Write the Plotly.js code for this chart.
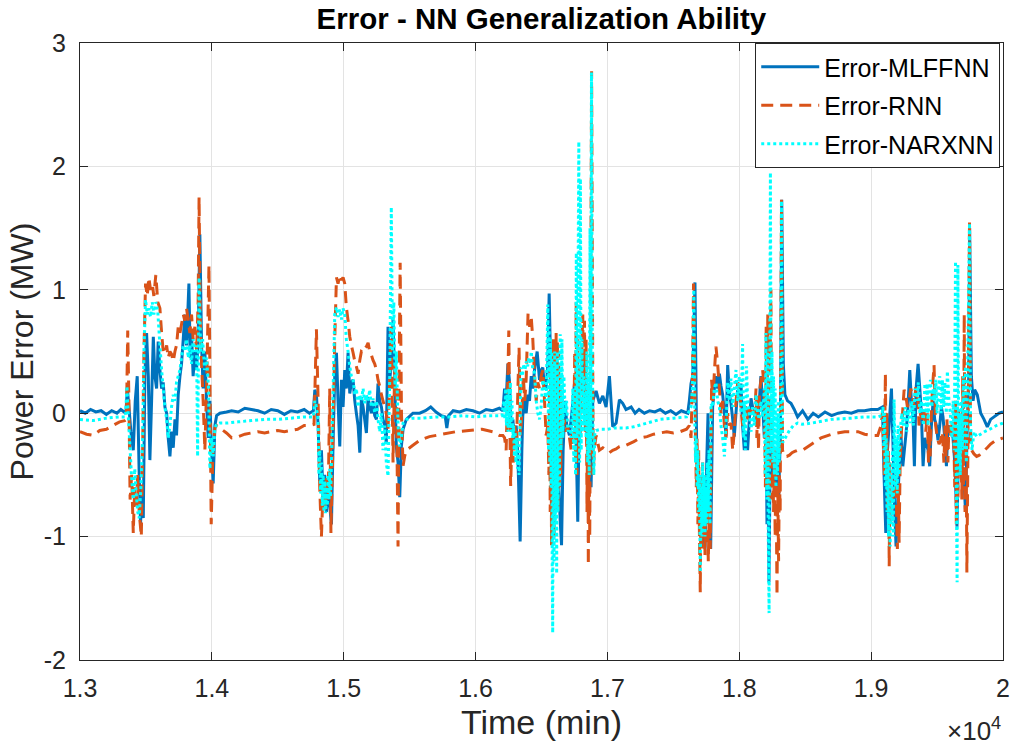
<!DOCTYPE html>
<html>
<head>
<meta charset="utf-8">
<script src="https://cdn.plot.ly/plotly-3.0.1.min.js"></script>
<style>html,body{margin:0;padding:0;background:#fff;}#chart{width:1013px;height:750px;}</style>
</head>
<body>
<div id="chart"></div>
<script>
// ---- tick labels ----
const xTickVals = [13000, 14000, 15000, 16000, 17000, 18000, 19000, 20000];
const xTickText = ['1.3', '1.4', '1.5', '1.6', '1.7', '1.8', '1.9', '2'];
const yTickVals = [-2, -1, 0, 1, 2, 3];
const yTickText = ['-2', '-1', '0', '1', '2', '3'];
const seriesNames = ['Error-MLFFNN', 'Error-RNN', 'Error-NARXNN'];

// ---- Error-MLFFNN : [time (min), error (MW)] ----
const mlffnnA = [[13000,0.02],[13040,0.00],[13080,0.03],[13120,0.01],[13160,0.02],[13200,-0.01],[13240,0.02],[13280,0.00],[13310,0.03],[13335,0.01],[13348,0.00],[13359,0.20],[13371,0.05],[13386,-0.15],[13404,-0.30],[13419,0.10],[13434,0.30],[13449,-0.50],[13459,-0.90],[13470,-0.60],[13480,-0.85],[13492,0.30],[13505,0.65],[13518,0.30],[13530,-0.38],[13543,0.10],[13556,0.62],[13568,0.30],[13581,0.20],[13593,0.58],[13606,0.35],[13619,0.20],[13631,0.25],[13644,0.05],[13657,0.00],[13669,-0.20],[13682,-0.35],[13694,-0.15],[13707,-0.28],[13720,-0.05],[13732,-0.18],[13745,0.15],[13758,0.30],[13770,0.40],[13783,0.60],[13795,0.80],[13808,0.55],[13826,1.05],[13836,0.45],[13846,0.65],[13858,0.30],[13871,0.50],[13884,0.35],[13896,0.60],[13909,1.45],[13922,0.55],[13934,0.20],[13947,0.50],[13960,0.10],[13972,-0.20],[13985,0.10],[13998,-0.30],[14010,-0.57],[14023,-0.10],[14036,-0.02],[14061,0.00]];
const mlffnnB = [[14111,0.01],[14150,0.02],[14200,0.01],[14250,0.04],[14300,0.03],[14350,0.02],[14400,0.00],[14450,0.03],[14500,0.02],[14550,-0.01],[14600,0.02],[14650,0.01],[14700,0.03],[14740,0.00],[14770,0.02],[14781,0.19],[14793,0.15],[14806,-0.10],[14818,-0.55],[14831,-0.30],[14844,-0.70],[14856,-0.50],[14869,-0.80],[14882,-0.55],[14894,-0.75],[14907,-0.90],[14920,-0.20],[14932,0.30],[14945,0.49],[14957,0.10],[14970,-0.27],[14983,0.27],[14995,0.05],[15008,0.35],[15020,0.20],[15033,0.49],[15046,0.16],[15058,0.25],[15071,0.27],[15084,0.10],[15096,0.00],[15109,-0.10],[15122,-0.32],[15134,0.13],[15147,0.05],[15159,-0.05],[15172,-0.16],[15185,0.13],[15197,0.05],[15210,0.00],[15222,0.10],[15235,-0.02],[15248,-0.05],[15260,0.24],[15273,0.10],[15286,0.05],[15298,-0.05],[15311,-0.10],[15323,-0.24],[15336,0.70],[15349,0.27],[15361,0.40],[15374,0.76],[15387,0.27],[15399,-0.27],[15412,-0.40],[15425,-0.68],[15437,-0.27],[15450,-0.13],[15475,-0.05],[15525,0.00]];
const mlffnnC = [[15576,0.00],[15620,0.02],[15660,0.05],[15700,0.01],[15740,-0.02],[15770,-0.03],[15782,-0.12],[15795,-0.02],[15830,0.02],[15880,0.01],[15930,0.03],[15980,0.02],[16030,0.00],[16080,0.03],[16130,0.02],[16180,0.04],[16207,0.02],[16220,0.20],[16232,0.10],[16245,0.40],[16258,0.25],[16270,-0.15],[16283,-0.05],[16295,-0.25],[16308,-0.10],[16321,-0.35],[16338,-1.04],[16351,-0.30],[16358,-0.02],[16371,0.10],[16384,0.00],[16396,0.15],[16409,0.10],[16422,0.30],[16434,0.20],[16447,0.35],[16467,0.50],[16485,0.27],[16497,0.35],[16510,0.37],[16523,0.20],[16535,0.20],[16548,0.40],[16558,0.97],[16568,0.45],[16580,-0.18],[16592,-0.40],[16605,-0.65],[16618,-0.30],[16630,-0.56],[16643,-0.90],[16652,-1.07],[16664,-0.30],[16679,0.10],[16692,-0.10],[16712,-0.18],[16730,0.00],[16750,0.24],[16762,-0.18],[16775,-0.88],[16788,0.14],[16800,0.30],[16813,0.45],[16826,0.10],[16838,-0.02],[16851,-0.30],[16864,-0.43],[16876,-0.60],[16889,0.10],[16914,0.18],[16939,0.08],[16965,0.14],[16990,0.05],[17015,0.30],[17040,-0.11],[17066,-0.08],[17091,0.11],[17116,0.08]];
const mlffnnD = [[17141,0.03],[17180,0.05],[17210,0.00],[17240,0.03],[17280,0.00],[17320,0.02],[17360,0.01],[17400,0.03],[17440,0.00],[17480,0.02],[17520,-0.01],[17560,0.02],[17609,0.00],[17621,0.10],[17634,0.24],[17647,0.30],[17664,1.06],[17677,-0.30],[17690,-0.50],[17702,-0.80],[17715,-0.60],[17728,-0.90],[17740,-1.10],[17753,-0.40],[17763,0.00],[17773,-0.70],[17783,-1.10],[17798,0.05],[17811,0.20],[17823,0.30],[17836,0.20],[17849,0.32],[17861,0.22],[17874,0.15],[17887,0.00],[17899,-0.19],[17912,0.39],[17925,0.15],[17937,0.08],[17950,-0.05],[17962,-0.19],[17975,0.00],[17988,0.19],[18000,0.10],[18013,0.24],[18025,-0.10],[18038,-0.30],[18051,-0.15],[18063,-0.30],[18076,-0.05],[18089,0.12],[18101,0.05],[18114,0.03],[18127,-0.05],[18139,-0.08],[18152,0.10],[18164,0.30],[18177,0.08],[18190,-0.20],[18202,0.20],[18210,-0.90],[18217,0.10],[18225,-1.37],[18235,-0.30],[18248,-0.55],[18260,-0.40],[18273,-0.60],[18286,-0.30],[18298,-0.70],[18311,-0.20],[18322,1.73],[18334,0.40],[18346,0.15],[18366,0.10],[18392,0.08],[18417,0.03],[18442,-0.03]];
const mlffnnE = [[18480,0.02],[18520,-0.05],[18560,0.00],[18600,-0.03],[18650,0.01],[18700,-0.02],[18750,0.00],[18800,0.01],[18850,0.00],[18900,0.02],[18950,0.02],[19000,0.03],[19050,0.03],[19086,0.05],[19098,-0.50],[19111,-0.97],[19124,-0.30],[19136,-0.10],[19154,0.20],[19167,-0.30],[19179,-0.80],[19189,-1.08],[19202,-0.70],[19215,-0.40],[19227,-0.20],[19240,-0.43],[19252,-0.30],[19265,-0.16],[19278,0.03],[19293,0.35],[19305,0.10],[19318,-0.05],[19328,-0.43],[19341,0.20],[19356,0.40],[19369,0.20],[19381,0.00],[19394,-0.43],[19406,-0.20],[19419,-0.25],[19432,-0.30],[19444,-0.43],[19457,-0.10],[19470,0.10],[19482,-0.05],[19495,-0.10],[19507,-0.22],[19520,-0.10],[19533,0.05],[19545,-0.03],[19558,-0.20],[19571,-0.43],[19583,-0.10],[19596,-0.12],[19608,-0.15],[19621,-0.20],[19636,-0.43],[19651,-0.92],[19664,-0.20],[19677,-0.30],[19689,-0.43],[19702,-0.50],[19715,-0.78],[19727,-0.20],[19740,0.30],[19747,1.50],[19760,0.30],[19773,0.10],[19785,0.19],[19805,0.15],[19831,0.00],[19856,-0.05],[19881,-0.11],[19906,-0.05],[19932,-0.03],[19970,0.00],[20000,0.01]];

// ---- Error-RNN ----
const rnnA = [[13000,-0.15],[13050,-0.17],[13100,-0.18],[13150,-0.14],[13200,-0.13],[13250,-0.10],[13300,-0.07],[13340,-0.06],[13352,-0.05],[13362,0.67],[13371,0.10],[13380,-0.70],[13392,-0.50],[13404,-0.97],[13415,-0.60],[13426,-0.75],[13438,-0.50],[13449,-0.80],[13465,-1.00],[13475,-0.30],[13485,0.50],[13497,1.05],[13510,0.95],[13522,1.10],[13535,1.00],[13548,1.05],[13560,0.95],[13575,1.12],[13590,0.90],[13606,0.85],[13619,0.65],[13631,0.50],[13644,0.48],[13657,0.55],[13669,0.45],[13682,0.50],[13694,0.48],[13707,0.42],[13720,0.50],[13732,0.55],[13745,0.70],[13758,0.65],[13770,0.72],[13783,0.80],[13795,0.75],[13808,0.85],[13821,0.75],[13833,0.65],[13846,0.80],[13858,0.60],[13871,0.70],[13884,0.50],[13896,0.90],[13903,1.75],[13912,0.80],[13922,0.40],[13934,0.10],[13947,-0.30],[13960,0.20],[13978,1.20],[13995,-0.90],[14008,-0.30],[14023,-0.12],[14036,-0.10],[14061,-0.12]];
const rnnB = [[14111,-0.16],[14150,-0.20],[14200,-0.19],[14250,-0.17],[14300,-0.16],[14350,-0.15],[14400,-0.16],[14450,-0.15],[14500,-0.14],[14550,-0.15],[14600,-0.14],[14650,-0.13],[14700,-0.10],[14740,-0.10],[14775,-0.09],[14793,0.68],[14806,0.10],[14818,-0.60],[14831,-1.00],[14844,-0.60],[14856,-0.80],[14869,-0.50],[14882,-0.70],[14894,0.20],[14903,-0.97],[14915,-0.40],[14932,0.60],[14945,1.10],[14957,1.05],[14970,1.12],[14983,1.08],[14995,1.10],[15008,1.05],[15020,0.86],[15033,0.75],[15046,0.62],[15058,0.55],[15071,0.49],[15084,0.42],[15096,0.38],[15109,0.32],[15122,0.43],[15134,0.50],[15147,0.49],[15159,0.52],[15172,0.54],[15185,0.57],[15197,0.50],[15210,0.47],[15222,0.43],[15235,0.40],[15248,0.35],[15260,0.27],[15273,0.22],[15286,0.15],[15298,0.10],[15311,0.05],[15323,0.00],[15336,-0.13],[15349,0.27],[15361,0.70],[15374,-0.40],[15387,0.40],[15399,0.20],[15412,-1.08],[15420,0.30],[15428,1.22],[15438,0.00],[15450,-0.43],[15462,-0.35],[15475,-0.30],[15525,-0.26]];
const rnnC = [[15576,-0.22],[15650,-0.19],[15750,-0.17],[15850,-0.15],[15950,-0.14],[16050,-0.13],[16130,-0.15],[16180,-0.18],[16207,-0.18],[16220,-0.20],[16232,-0.30],[16245,0.30],[16252,0.67],[16260,-0.10],[16266,-0.59],[16276,-0.20],[16287,-0.40],[16298,-0.10],[16310,-0.30],[16321,0.20],[16330,0.53],[16340,-0.18],[16351,0.00],[16362,0.30],[16373,0.10],[16384,0.28],[16398,0.81],[16410,0.70],[16422,0.78],[16434,0.60],[16447,0.30],[16460,0.10],[16472,0.25],[16485,0.20],[16497,0.30],[16510,0.35],[16523,0.10],[16535,-0.18],[16548,-0.10],[16556,-0.50],[16561,0.20],[16566,-0.80],[16571,0.40],[16576,-1.07],[16581,0.50],[16586,-0.90],[16591,0.60],[16596,-1.00],[16601,0.50],[16606,-0.80],[16611,0.65],[16616,-0.70],[16621,0.60],[16626,-0.80],[16631,0.50],[16636,-0.60],[16641,0.30],[16646,-0.50],[16652,0.10],[16660,-0.20],[16672,-0.05],[16685,-0.15],[16698,-0.10],[16712,-0.20],[16725,-0.30],[16735,-0.15],[16746,-0.05],[16752,0.50],[16758,-0.40],[16763,0.90],[16769,-0.50],[16775,0.60],[16781,-0.30],[16788,0.40],[16794,-0.20],[16800,0.20],[16806,0.50],[16813,0.80],[16819,0.00],[16826,0.75],[16832,-0.15],[16838,0.60],[16845,-0.80],[16851,0.20],[16855,-1.23],[16860,-0.20],[16866,-1.00],[16872,0.50],[16880,2.77],[16887,0.80],[16892,-0.50],[16900,-0.30],[16914,-0.18],[16939,-0.30],[16965,-0.28],[16990,-0.30],[17015,-0.32],[17040,-0.30],[17066,-0.29],[17091,-0.27],[17116,-0.26]];
const rnnD = [[17141,-0.26],[17200,-0.23],[17250,-0.20],[17300,-0.19],[17350,-0.17],[17400,-0.16],[17450,-0.15],[17500,-0.16],[17550,-0.15],[17600,-0.13],[17621,-0.10],[17634,-0.20],[17645,0.30],[17653,1.05],[17660,0.50],[17668,-0.20],[17674,-0.60],[17680,-0.20],[17686,-0.90],[17692,-0.30],[17698,-1.00],[17704,-1.45],[17710,-0.50],[17716,-1.10],[17722,-0.40],[17728,-1.00],[17734,-0.50],[17740,-1.15],[17746,-0.60],[17752,-0.90],[17758,-0.70],[17765,-1.20],[17772,-0.80],[17780,-1.10],[17790,0.27],[17800,0.10],[17812,0.35],[17823,0.54],[17836,0.40],[17849,0.20],[17861,0.00],[17874,0.10],[17887,-0.10],[17899,-0.20],[17912,0.00],[17925,-0.10],[17937,-0.08],[17950,-0.30],[17962,-0.15],[17975,0.10],[17988,0.25],[18000,0.20],[18013,0.05],[18025,-0.10],[18038,0.00],[18051,0.08],[18063,-0.05],[18076,0.03],[18089,0.00],[18101,0.02],[18114,-0.05],[18127,0.20],[18133,-0.20],[18139,0.10],[18146,-0.30],[18152,0.15],[18164,0.27],[18177,0.35],[18190,0.20],[18198,-0.60],[18204,0.70],[18210,-0.40],[18216,0.80],[18222,-0.70],[18228,0.70],[18234,0.40],[18240,1.00],[18246,-0.70],[18253,-0.30],[18260,-0.80],[18266,-0.30],[18272,-1.00],[18278,-0.40],[18286,-1.48],[18292,-0.60],[18298,-1.20],[18304,-0.50],[18310,-0.80],[18320,1.73],[18328,-0.30],[18342,-0.35],[18360,-0.35],[18380,-0.34],[18400,-0.32],[18420,-0.31],[18442,-0.30]];
const rnnE = [[18480,-0.30],[18550,-0.25],[18620,-0.20],[18700,-0.17],[18800,-0.15],[18900,-0.15],[18950,-0.17],[19000,-0.18],[19050,-0.18],[19075,-0.10],[19086,0.00],[19100,-0.50],[19108,0.32],[19114,-0.50],[19120,0.00],[19126,-0.80],[19131,-0.30],[19137,-1.24],[19142,-0.40],[19148,-0.90],[19154,-0.70],[19162,-0.70],[19174,-0.60],[19187,-0.50],[19199,-1.10],[19206,-0.60],[19212,-1.05],[19220,-0.40],[19232,-0.10],[19250,0.19],[19262,0.15],[19275,0.05],[19288,0.10],[19300,0.20],[19312,0.15],[19325,0.05],[19338,0.20],[19351,0.20],[19363,-0.10],[19376,0.00],[19388,-0.05],[19401,0.02],[19414,-0.15],[19426,0.00],[19435,-0.40],[19442,-0.10],[19448,-0.35],[19455,-0.05],[19465,0.20],[19477,0.39],[19489,-0.10],[19502,-0.20],[19515,-0.25],[19528,-0.22],[19540,-0.15],[19552,-0.40],[19560,-0.10],[19567,-0.35],[19575,-0.05],[19582,-0.40],[19590,-0.10],[19600,-0.20],[19612,-0.10],[19625,-0.05],[19634,-0.60],[19640,0.10],[19646,-0.90],[19652,0.00],[19658,-0.70],[19664,0.05],[19672,-0.50],[19680,-0.20],[19688,-0.70],[19694,0.30],[19700,-0.60],[19706,0.80],[19712,-0.80],[19718,0.20],[19726,-1.29],[19734,-0.30],[19746,1.55],[19754,-0.20],[19762,-0.30],[19780,-0.33],[19800,-0.35],[19820,-0.34],[19850,-0.31],[19880,-0.28],[19906,-0.25],[19944,-0.22],[19975,-0.21],[20000,-0.20]];

// ---- Error-NARXNN ----
const narxA = [[13000,-0.05],[13100,-0.06],[13200,-0.04],[13300,-0.03],[13345,-0.03],[13356,0.22],[13365,0.00],[13378,-0.25],[13390,-0.50],[13404,-0.70],[13415,-0.45],[13426,-0.65],[13438,-0.80],[13449,-0.85],[13462,-0.60],[13475,-0.20],[13485,0.50],[13497,0.92],[13510,0.80],[13522,0.85],[13535,0.78],[13548,0.90],[13560,0.80],[13575,0.90],[13590,0.82],[13606,0.55],[13619,0.35],[13631,0.20],[13644,0.05],[13657,-0.05],[13669,-0.20],[13682,-0.10],[13694,0.05],[13707,0.15],[13720,0.10],[13732,0.25],[13745,0.30],[13758,0.35],[13770,0.45],[13783,0.55],[13795,0.50],[13808,0.60],[13821,0.45],[13833,0.55],[13846,0.40],[13858,0.60],[13871,0.50],[13884,0.55],[13892,-0.35],[13903,1.10],[13915,0.50],[13930,0.60],[13945,0.35],[13960,0.45],[13975,0.20],[13985,-0.45],[13998,-0.20],[14010,-0.35],[14023,-0.12],[14036,-0.09],[14061,-0.08]];
const narxB = [[14111,-0.08],[14200,-0.07],[14300,-0.06],[14400,-0.05],[14500,-0.05],[14600,-0.04],[14700,-0.03],[14770,-0.03],[14781,0.10],[14793,0.05],[14806,-0.05],[14812,-0.50],[14818,-0.30],[14825,-0.65],[14831,-0.40],[14838,-0.75],[14844,-0.50],[14850,-0.80],[14856,-0.55],[14863,-0.81],[14869,-0.60],[14876,-0.75],[14882,-0.50],[14888,-0.70],[14894,-0.45],[14900,-0.68],[14907,-0.40],[14920,0.20],[14932,0.80],[14945,0.86],[14957,0.78],[14970,0.84],[14983,0.76],[14995,0.85],[15008,0.80],[15020,0.60],[15033,0.50],[15046,0.38],[15058,0.30],[15071,0.27],[15084,0.15],[15096,0.20],[15109,0.05],[15122,0.15],[15134,0.10],[15147,0.20],[15159,0.08],[15172,0.15],[15185,0.10],[15197,0.19],[15210,0.05],[15222,0.12],[15235,0.00],[15248,0.10],[15260,-0.05],[15273,-0.15],[15286,0.00],[15298,-0.30],[15311,-0.10],[15323,-0.40],[15336,-0.51],[15349,0.30],[15361,1.67],[15370,0.50],[15380,0.90],[15390,0.20],[15399,0.50],[15412,-0.10],[15425,-0.27],[15437,-0.20],[15450,-0.08],[15475,-0.05],[15525,-0.04]];
const narxC = [[15600,-0.04],[15700,-0.03],[15800,-0.03],[15900,-0.02],[16000,-0.03],[16100,-0.02],[16200,-0.02],[16215,0.10],[16222,-0.05],[16228,0.20],[16234,-0.10],[16240,0.15],[16246,-0.15],[16252,0.20],[16258,-0.10],[16264,0.25],[16270,-0.15],[16276,0.10],[16282,-0.20],[16288,-0.10],[16294,-0.35],[16300,-0.15],[16306,-0.40],[16312,-0.20],[16318,-0.45],[16324,-0.30],[16330,-0.50],[16336,-0.20],[16345,0.37],[16355,0.30],[16365,0.40],[16375,0.35],[16385,0.42],[16395,0.38],[16405,0.45],[16415,0.40],[16422,0.50],[16434,0.35],[16447,0.33],[16460,0.10],[16472,0.00],[16485,-0.05],[16497,0.05],[16510,0.27],[16523,0.20],[16535,0.10],[16548,0.88],[16553,-0.30],[16558,0.70],[16563,-0.40],[16568,0.60],[16573,-0.60],[16578,0.50],[16581,-1.20],[16585,-1.78],[16590,0.40],[16595,-1.20],[16600,0.50],[16605,-0.90],[16610,0.40],[16615,-1.30],[16620,0.50],[16625,-0.80],[16630,0.30],[16636,-0.60],[16642,0.64],[16648,-0.30],[16655,0.60],[16662,-0.20],[16670,0.30],[16680,0.00],[16690,0.10],[16700,-0.15],[16712,-0.10],[16725,-0.20],[16738,0.20],[16745,-0.40],[16752,0.20],[16758,-0.50],[16764,1.30],[16770,-0.20],[16777,1.00],[16783,2.20],[16789,-0.40],[16795,1.90],[16801,-0.30],[16807,0.60],[16813,-0.15],[16820,0.30],[16826,-0.10],[16832,0.15],[16838,-0.20],[16844,0.50],[16850,-0.40],[16856,0.30],[16862,-0.50],[16868,1.50],[16873,-0.30],[16879,2.76],[16885,0.60],[16891,-0.20],[16897,-0.50],[16905,-0.15],[16914,-0.14],[16950,-0.13],[17000,-0.13],[17050,-0.12],[17100,-0.12]];
const narxD = [[17141,-0.12],[17200,-0.11],[17300,-0.08],[17400,-0.05],[17500,-0.04],[17600,-0.03],[17634,0.05],[17645,0.20],[17655,1.00],[17662,0.00],[17668,-0.40],[17674,-0.20],[17680,-0.60],[17686,-0.30],[17692,-0.80],[17698,-0.50],[17704,-1.29],[17710,-0.60],[17716,-1.00],[17722,-0.40],[17728,-0.90],[17734,-0.50],[17740,-1.00],[17746,-0.60],[17752,-0.90],[17758,-0.40],[17764,-0.80],[17770,-0.30],[17778,-0.90],[17786,0.08],[17798,0.05],[17811,0.20],[17823,0.25],[17836,0.10],[17849,0.05],[17861,-0.10],[17874,-0.20],[17887,-0.35],[17899,-0.10],[17912,0.25],[17925,0.10],[17937,0.28],[17950,0.05],[17962,0.20],[17975,0.35],[17988,0.10],[18000,0.30],[18013,0.00],[18025,0.56],[18033,-0.20],[18040,0.10],[18046,-0.30],[18055,0.38],[18063,0.10],[18076,0.00],[18089,-0.15],[18101,0.05],[18114,-0.10],[18127,0.15],[18139,0.00],[18152,-0.05],[18164,0.10],[18177,-0.03],[18190,0.20],[18196,-0.50],[18202,0.65],[18208,-0.70],[18214,0.50],[18220,-1.00],[18226,-1.62],[18231,0.30],[18236,1.95],[18242,-0.30],[18248,0.50],[18254,-0.40],[18260,0.30],[18266,-0.50],[18272,0.20],[18278,-0.60],[18284,0.00],[18290,-0.50],[18296,0.10],[18302,-0.40],[18308,0.00],[18314,-0.20],[18320,1.72],[18328,-0.24],[18354,-0.19],[18380,-0.14],[18410,-0.10],[18442,-0.08]];
const narxE = [[18480,-0.09],[18550,-0.08],[18700,-0.05],[18850,-0.04],[18950,-0.03],[19050,-0.03],[19080,-0.02],[19090,0.05],[19096,-0.30],[19102,0.00],[19108,-0.60],[19114,-0.20],[19120,-0.80],[19126,-0.30],[19132,-1.00],[19138,-0.40],[19144,-1.08],[19150,-0.50],[19156,-0.90],[19162,-0.30],[19168,-1.00],[19174,0.11],[19180,-0.30],[19186,-0.60],[19192,-0.20],[19198,-0.65],[19204,-0.10],[19212,-0.50],[19220,-0.15],[19232,0.00],[19245,-0.10],[19258,0.05],[19270,-0.15],[19283,0.03],[19296,-0.08],[19308,0.10],[19320,-0.10],[19333,0.20],[19346,0.10],[19358,0.25],[19370,0.00],[19383,0.10],[19396,-0.10],[19408,0.24],[19416,0.00],[19424,0.24],[19432,-0.10],[19440,0.20],[19450,0.27],[19460,0.05],[19470,0.20],[19480,0.10],[19490,0.27],[19500,0.00],[19510,0.20],[19520,0.30],[19530,0.00],[19540,0.27],[19550,0.05],[19560,0.25],[19570,0.00],[19578,0.34],[19590,0.10],[19600,0.00],[19612,-0.20],[19622,0.10],[19630,-0.30],[19640,1.23],[19646,-0.60],[19652,-1.37],[19658,1.20],[19664,-0.40],[19670,0.00],[19676,-0.50],[19684,0.10],[19692,-0.30],[19700,0.30],[19708,-0.30],[19716,0.38],[19722,-0.40],[19730,0.20],[19746,1.54],[19754,-0.10],[19765,-0.30],[19780,-0.15],[19800,-0.19],[19830,-0.17],[19860,-0.15],[19900,-0.13],[19950,-0.10],[20000,-0.08]];

function join(parts) { return [].concat.apply([], parts); }
const mlffnn = join([mlffnnA, mlffnnB, mlffnnC, mlffnnD, mlffnnE]);
const rnn = join([rnnA, rnnB, rnnC, rnnD, rnnE]);
const narx = join([narxA, narxB, narxC, narxD, narxE]);

const FONT = 'Liberation Sans, Arial, Helvetica, sans-serif';
const INK = '#262626';

function trace(data, name, color, dash, group) {
  return {
    type: 'scatter', mode: 'lines', name: name, legendgroup: group,
    x: data.map(p => p[0]), y: data.map(p => p[1]),
    line: {color: color, width: 3, dash: dash, simplify: false}
  };
}

const traces = [
  trace(mlffnn, seriesNames[0], '#0072BD', 'solid', 'g1'),
  trace(rnn, seriesNames[1], '#D95319', '12px,7px', 'g2'),
  trace(narx, seriesNames[2], '#00FFFF', '3px,3px', 'g3')
];

const axisCommon = {
  showline: true, linecolor: INK, linewidth: 1, mirror: 'ticks',
  ticks: 'inside', ticklen: 8, tickwidth: 1, tickcolor: INK,
  showgrid: true, gridcolor: '#e3e3e3', gridwidth: 1, zeroline: false,
  tickfont: {family: FONT, size: 25, color: INK}
};

const layout = {
  width: 1013, height: 750,
  margin: {l: 80, r: 10, t: 43, b: 90},
  paper_bgcolor: '#fff', plot_bgcolor: '#fff',
  showlegend: true,
  title: {text: '<b>Error - NN Generalization Ability</b>', font: {family: FONT, size: 29.5, color: '#000'},
          x: 0.5345, xanchor: 'center', y: 0.975, yanchor: 'middle', xref: 'container', yref: 'container'},
  xaxis: Object.assign({}, axisCommon, {
    range: [13000, 20000], tickmode: 'array', tickvals: xTickVals, ticktext: xTickText,
    ticklabelstandoff: 6,
    title: {text: 'Time (min)', font: {family: FONT, size: 34, color: INK}, standoff: 9}
  }),
  yaxis: Object.assign({}, axisCommon, {
    range: [-2, 3], tickmode: 'array', tickvals: yTickVals, ticktext: yTickText,
    ticklabelstandoff: 8,
    title: {text: 'Power Error (MW)', font: {family: FONT, size: 32, color: INK}, standoff: 0}
  }),
  legend: {
    x: 0.997, xanchor: 'right', y: 1, yanchor: 'top',
    bgcolor: '#fff', bordercolor: INK, borderwidth: 1,
    font: {family: FONT, size: 25, color: '#000'},
    itemwidth: 58, traceorder: 'grouped', tracegroupgap: 3
  },
  annotations: [{
    text: '×10<sup>4</sup>', xref: 'paper', yref: 'paper', x: 1, y: -0.112,
    xanchor: 'right', yanchor: 'middle', showarrow: false,
    font: {family: FONT, size: 26, color: INK}
  }]
};

Plotly.newPlot('chart', traces, layout, {displayModeBar: false, staticPlot: true});
</script>
</body>
</html>
